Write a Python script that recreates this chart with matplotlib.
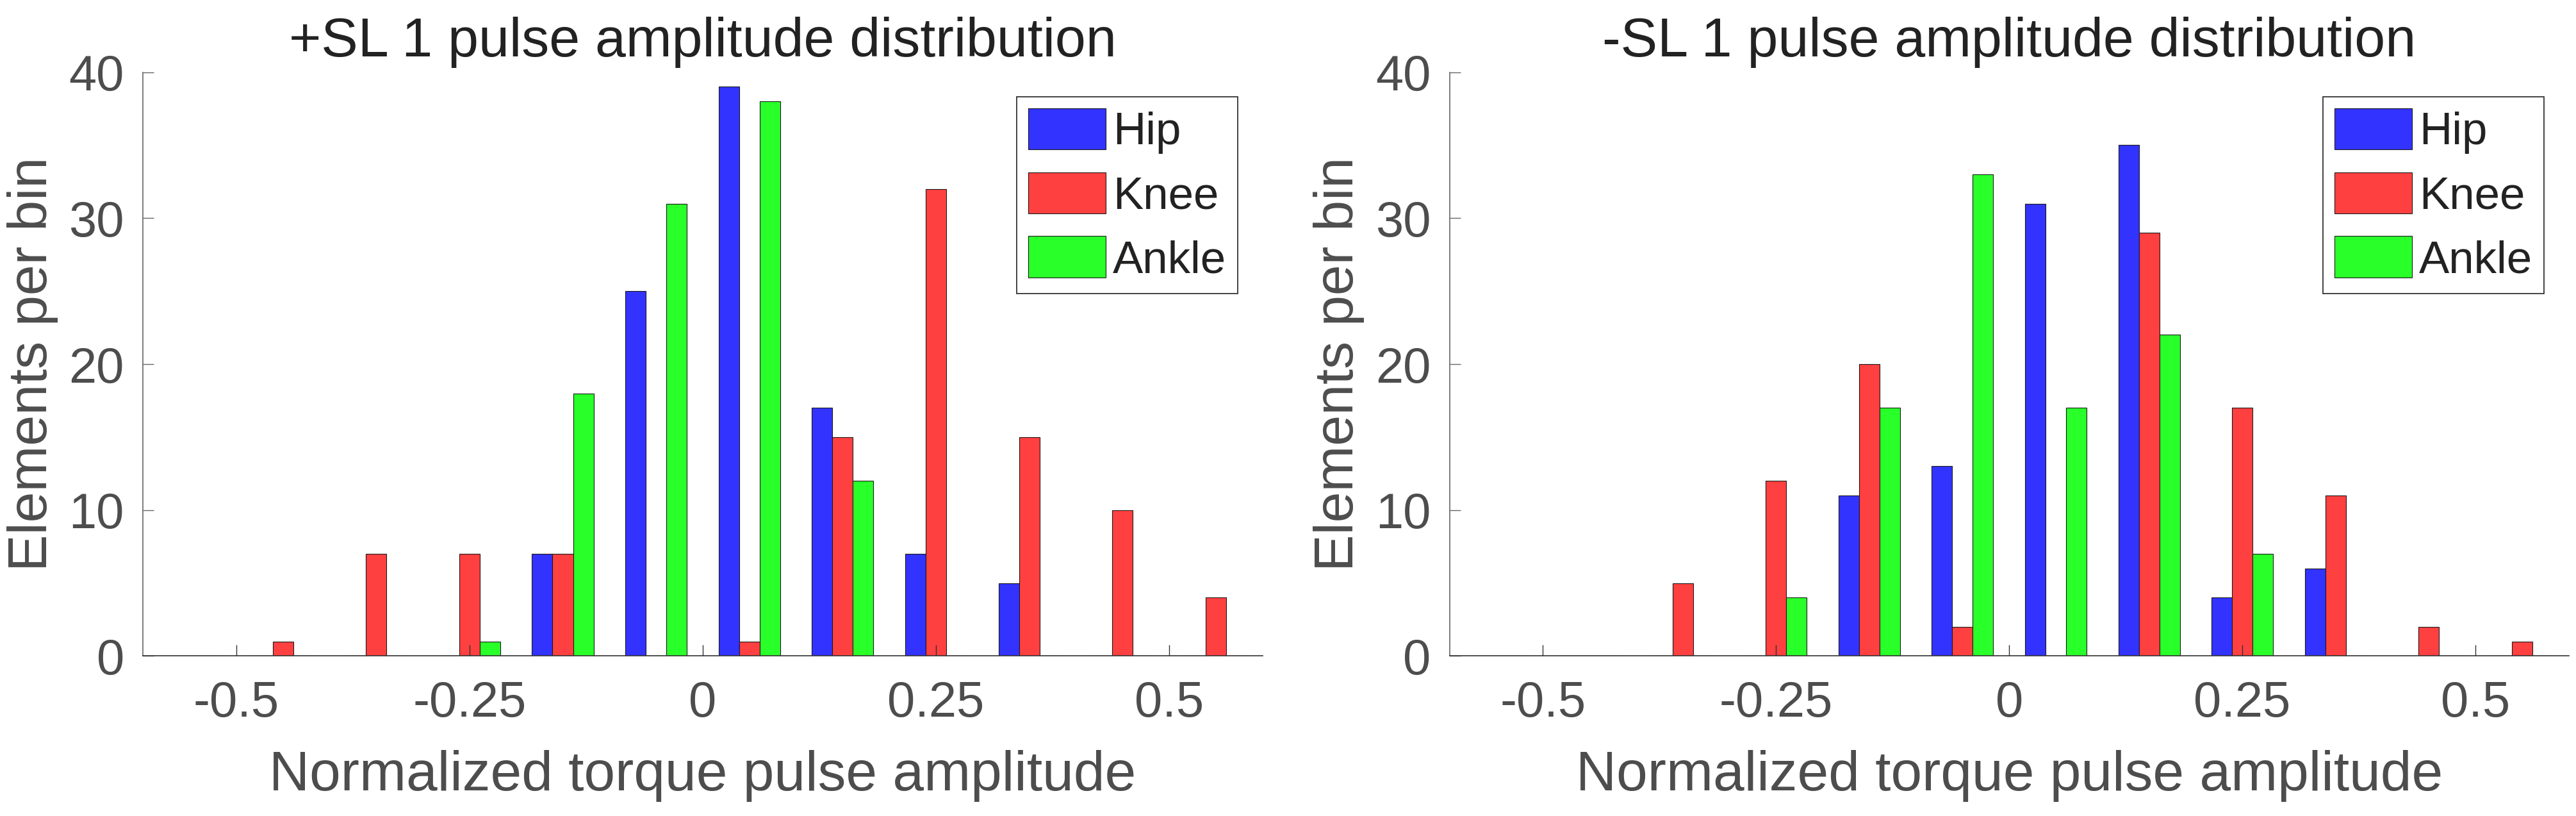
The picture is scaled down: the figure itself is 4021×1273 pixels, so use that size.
import numpy as np
import matplotlib
matplotlib.use('Agg')
import matplotlib.pyplot as plt

plt.rcParams['font.family'] = ['Liberation Sans', 'DejaVu Sans']

# bin centres of the histograms
bins = [-0.55, -0.45, -0.35, -0.25, -0.15, -0.05, 0.05, 0.15, 0.25, 0.35, 0.45, 0.55]

# +SL 1
pos_hip = [0, 0, 0, 0, 7, 25, 39, 17, 7, 5, 0, 0]
pos_knee = [0, 1, 7, 7, 7, 0, 1, 15, 32, 15, 10, 4]
pos_ankle = [0, 0, 0, 1, 18, 31, 38, 12, 0, 0, 0, 0]

# -SL 1
neg_hip = [0, 0, 0, 0, 11, 13, 31, 35, 4, 6, 0, 0]
neg_knee = [0, 0, 5, 12, 20, 2, 0, 29, 17, 11, 2, 1]
neg_ankle = [0, 0, 0, 4, 17, 33, 17, 22, 7, 0, 0, 0]

titles = ['+SL 1 pulse amplitude distribution', '-SL 1 pulse amplitude distribution']
joints = ['Hip', 'Knee', 'Ankle']
colors = ['#3333ff', '#ff4040', '#29ff29']
xticks = [-0.5, -0.25, 0, 0.25, 0.5]
xticklabels = ['-0.5', '-0.25', '0', '0.25', '0.5']

gray = '#4d4d4d'
fig = plt.figure(figsize=(40.21, 12.73), dpi=100)
ax1 = fig.add_axes([0.0555, 0.1961, 0.4346, 0.7154])
ax2 = fig.add_axes([0.5627, 0.1961, 0.4345, 0.7154])

x = np.array(bins)
w = 0.022
for ax, data, title in [(ax1, [pos_hip, pos_knee, pos_ankle], titles[0]),
                        (ax2, [neg_hip, neg_knee, neg_ankle], titles[1])]:
    for k in range(3):
        ax.bar(x + (k - 1) * w, data[k], width=w, color=colors[k],
               edgecolor='#1a1a1a', linewidth=0.8, label=joints[k])
    ax.set_xlim(-0.6, 0.6)
    ax.set_ylim(0, 40)
    ax.set_xticks(xticks)
    ax.set_xticklabels(xticklabels)
    ax.set_yticks([0, 10, 20, 30, 40])
    ax.spines['top'].set_visible(False)
    ax.spines['right'].set_visible(False)
    ax.spines['left'].set_color('#666666')
    ax.spines['bottom'].set_color('#333333')
    for s in ['bottom', 'left']:
        ax.spines[s].set_linewidth(1.2)
    ax.tick_params(axis='x', direction='in', length=12, width=1.0, color='#333333',
                   labelcolor=gray, labelsize=56, pad=27)
    ax.tick_params(axis='y', direction='in', length=12, width=1.0, color='#666666',
                   labelcolor=gray, labelsize=56, pad=21)
    ax.set_title(title, fontsize=62, color='#222222', pad=18)
    ax.set_xlabel('Normalized torque pulse amplitude', fontsize=63, color=gray, labelpad=26)
    ax.set_ylabel('Elements per bin', fontsize=62, color=gray, labelpad=12)
    leg = ax.legend(loc='upper right', bbox_to_anchor=(0.9777, 0.958), fontsize=51,
                    fancybox=False, edgecolor='#222222', framealpha=1,
                    handlelength=1.71, handleheight=1.03, handletextpad=0.15,
                    labelspacing=0.4, borderpad=0.25, borderaxespad=0)
    leg.get_frame().set_linewidth(1.2)
    for t in leg.get_texts():
        t.set_color('#222222')

fig.savefig('out.png', dpi=100)
